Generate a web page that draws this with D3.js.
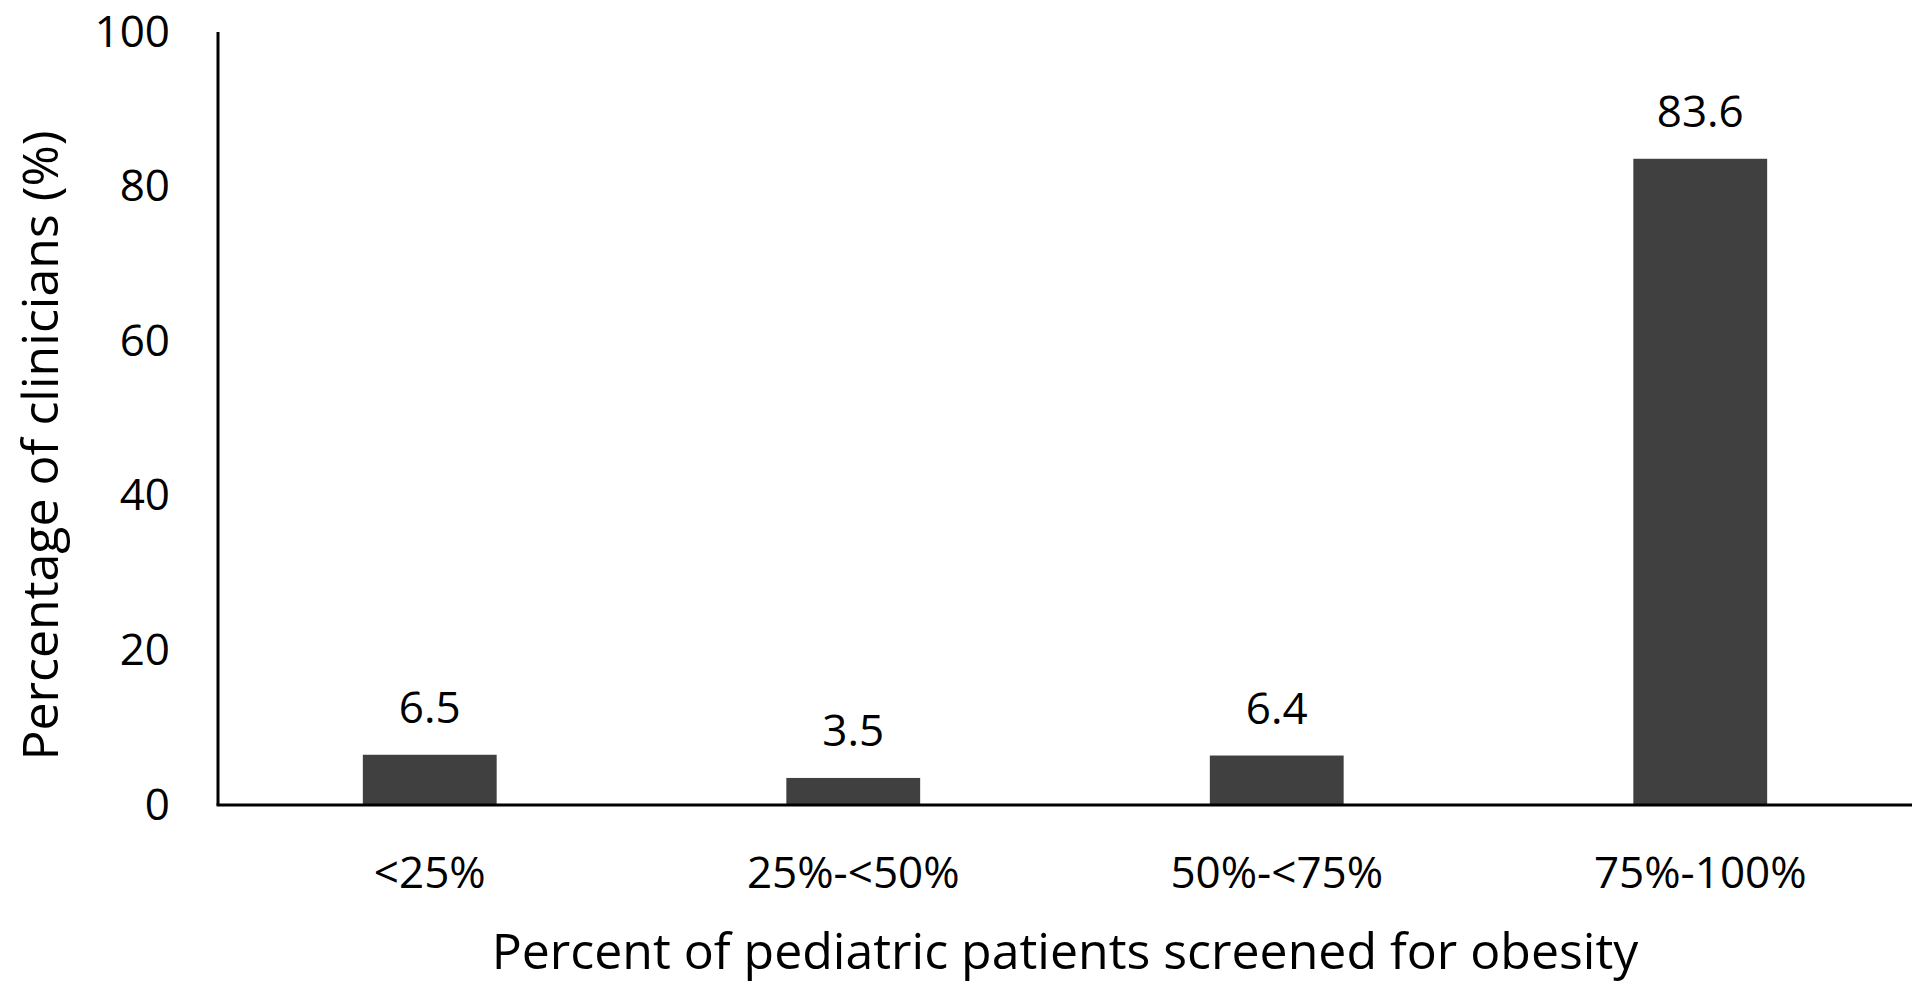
<!DOCTYPE html>
<meta charset="utf-8">
<style>
  body { margin: 0; background: #fff; }
  svg { display: block; }
  .axis text { font: 44px "Open Sans", sans-serif; fill: #000; }
  .axis .domain { stroke: #000; stroke-width: 3px; }
  .barLabel { font: 44px "Open Sans", sans-serif; fill: #000; }
  .axisTitle { font: 50px "Open Sans", sans-serif; fill: #000; }
</style>
<svg width="1920" height="993"></svg>
<script src="https://d3js.org/d3.v7.min.js"></script>
<script>
// screening share buckets and percent of clinicians in each
var categories = ["<25%", "25%-<50%", "50%-<75%", "75%-100%"];
var values = [6.5, 3.5, 6.4, 83.6];
var yTicks = [0, 20, 40, 60, 80, 100];

var svg = d3.select("svg"),
    margin = {top: 32, right: 8, bottom: 188, left: 218},
    width = +svg.attr("width") - margin.left - margin.right,
    height = +svg.attr("height") - margin.top - margin.bottom,
    g = svg.append("g").attr("transform", "translate(" + margin.left + "," + margin.top + ")");

var x = d3.scaleBand()
    .domain(categories)
    .range([0, width])
    .paddingInner(0.684)
    .paddingOuter(0.342);

var y = d3.scaleLinear()
    .domain([0, 100])
    .range([height, 0]);

// bars
g.selectAll("rect.bar")
  .data(values)
  .enter().append("rect")
    .attr("class", "bar")
    .attr("x", (d, i) => x(categories[i]))
    .attr("y", d => y(d))
    .attr("width", x.bandwidth())
    .attr("height", d => y(0) - y(d))
    .attr("fill", "#404040");

// value labels above the bars
g.selectAll("text.barLabel")
  .data(values)
  .enter().append("text")
    .attr("class", "barLabel")
    .attr("x", (d, i) => x(categories[i]) + x.bandwidth() / 2)
    .attr("y", d => y(d) - 32)
    .attr("text-anchor", "middle")
    .text(d => d.toFixed(1));

// axes
g.append("g")
    .attr("class", "axis")
    .call(d3.axisLeft(y).tickValues(yTicks).tickSize(0).tickPadding(48))
    .call(a => a.select(".domain").attr("d", "M0," + height + "V0"));

g.append("g")
    .attr("class", "axis")
    .attr("transform", "translate(0," + height + ")")
    .call(d3.axisBottom(x).tickSize(0).tickPadding(52))
    .call(a => a.select(".domain").attr("d", "M-1.5,0H" + width));

// axis titles
svg.append("text")
    .attr("class", "axisTitle")
    .attr("x", margin.left + width / 2)
    .attr("y", 969)
    .attr("text-anchor", "middle")
    .text("Percent of pediatric patients screened for obesity");

svg.append("text")
    .attr("class", "axisTitle")
    .attr("transform", "translate(58," + (margin.top + height / 2 + 27) + ") rotate(-90)")
    .attr("text-anchor", "middle")
    .text("Percentage of clinicians (%)");
</script>
